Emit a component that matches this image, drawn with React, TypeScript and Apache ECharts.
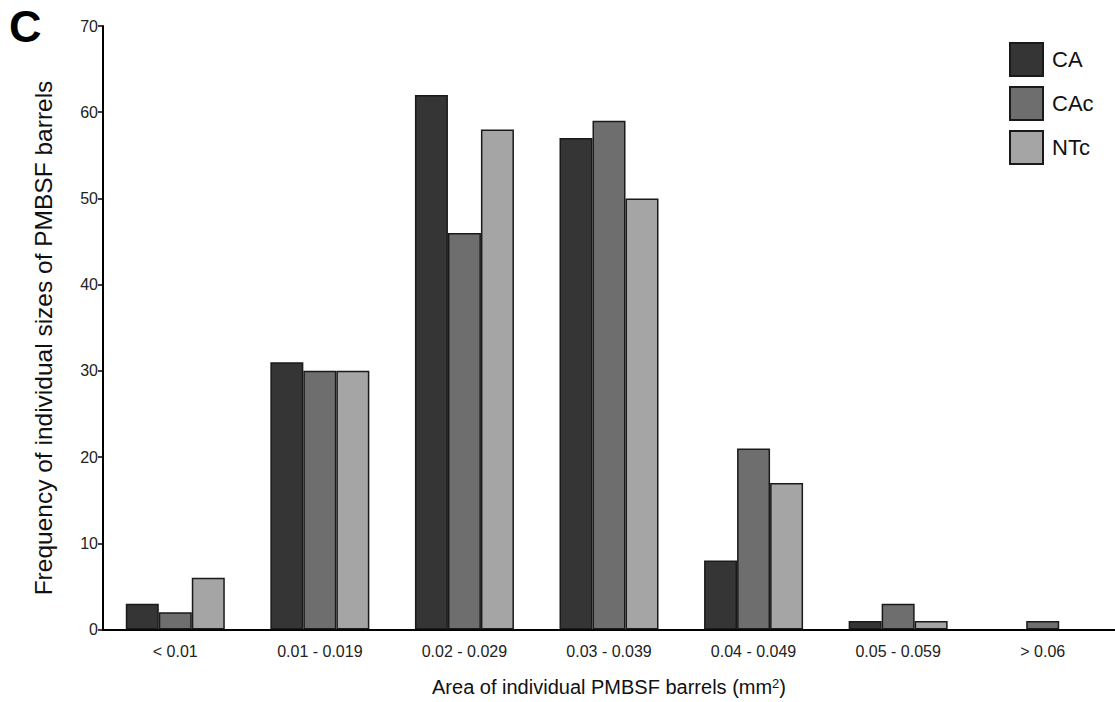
import React, { useEffect, useRef } from "react";
import * as echarts from "echarts";

const categories = ["< 0.01", "0.01 - 0.019", "0.02 - 0.029", "0.03 - 0.039", "0.04 - 0.049", "0.05 - 0.059", "> 0.06"];
const caValues = [3, 31, 62, 57, 8, 1, 0];
const cacValues = [2, 30, 46, 59, 21, 3, 1];
const ntcValues = [6, 30, 58, 50, 17, 1, 0];
const seriesNames = ["CA", "CAc", "NTc"];
const seriesColors = ["#353535", "#6e6e6e", "#a5a5a5"];
const yTicks = [0, 10, 20, 30, 40, 50, 60, 70];
const yTitle = "Frequency of individual sizes of PMBSF barrels";

const FONT = "'Liberation Sans', Arial, Helvetica, sans-serif";

export default function App() {
  const ref = useRef<HTMLDivElement>(null);

  useEffect(() => {
    if (!ref.current) return;
    const chart = echarts.init(ref.current, undefined, { renderer: "svg" });
    const values = [caValues, cacValues, ntcValues];
    chart.setOption({
      animation: false,
      backgroundColor: "#ffffff",
      textStyle: { fontFamily: FONT },
      graphic: [
        {
          type: "text",
          left: 9,
          top: 4,
          style: { text: "C", font: `bold 45px ${FONT}`, fill: "#000" },
        },
        {
          // rotated y-axis title
          type: "text",
          x: 43,
          y: 338,
          rotation: Math.PI / 2,
          style: {
            text: yTitle,
            font: `24.5px ${FONT}`,
            fill: "#111",
            textAlign: "center",
            textVerticalAlign: "middle",
          },
        },
      ],
      legend: {
        orient: "vertical",
        left: 1009,
        top: 42,
        padding: 0,
        itemWidth: 33,
        itemHeight: 33,
        itemGap: 9,
        icon: "rect",
        textStyle: { fontSize: 22, color: "#111", fontFamily: FONT, padding: [0, 0, 0, 4] },
        data: seriesNames,
      },
      grid: { left: 103, right: 0, top: 26, bottom: 70, containLabel: false },
      xAxis: {
        type: "category",
        data: categories,
        name: "Area of individual PMBSF barrels (mm{sup|2})",
        nameLocation: "middle",
        nameGap: 47,
        nameTextStyle: {
          fontSize: 20,
          color: "#111",
          fontFamily: FONT,
          rich: { sup: { fontSize: 13, verticalAlign: "top", padding: [0, 0, 8, 0], color: "#111" } },
        },
        axisLine: { lineStyle: { color: "#000", width: 2 } },
        axisTick: { show: false },
        axisLabel: { fontSize: 16, color: "#222", margin: 14, fontFamily: FONT },
      },
      yAxis: {
        type: "value",
        min: yTicks[0],
        max: yTicks[yTicks.length - 1],
        interval: 10,
        axisLine: { show: true, lineStyle: { color: "#000", width: 2 } },
        axisTick: { show: true, length: 5, lineStyle: { color: "#000", width: 1.5 } },
        axisLabel: { fontSize: 16, color: "#222", margin: 5, fontFamily: FONT },
        splitLine: { show: false },
      },
      series: seriesNames.map((name, i) => ({
        name,
        type: "bar",
        // empty bins get no outline so nothing is drawn for them
        data: values[i].map((v) => (v === 0 ? { value: v, itemStyle: { borderWidth: 0 } } : v)),
        barWidth: 33,
        barGap: "0%",
        itemStyle: { color: seriesColors[i], borderColor: "#1a1a1a", borderWidth: 1.5 },
      })),
    });
    return () => chart.dispose();
  }, []);

  return (
    <div
      ref={ref}
      style={{ position: "fixed", left: 0, top: 0, width: 1115, height: 702, background: "#fff" }}
    />
  );
}
